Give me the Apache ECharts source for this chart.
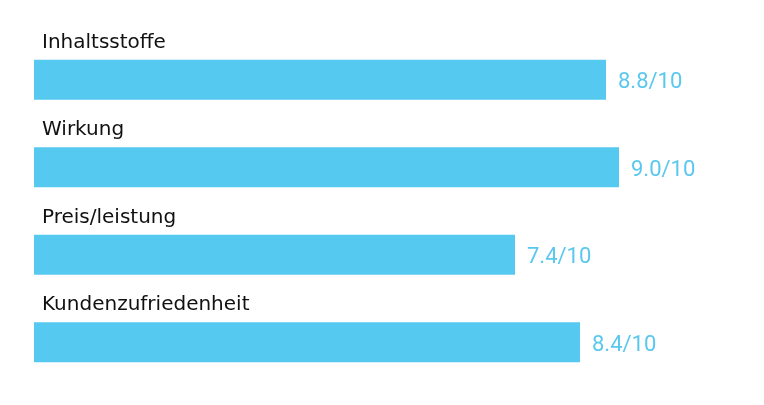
<!DOCTYPE html>
<html>
<head>
<meta charset="utf-8">
<script src="https://cdn.jsdelivr.net/npm/echarts@6/dist/echarts.min.js"></script>
<style>html,body{margin:0;padding:0;background:#fff}#c{width:764px;height:405px}</style>
</head>
<body>
<div id="c"></div>
<script>
var categories = ['Inhaltsstoffe', 'Wirkung', 'Preis/leistung', 'Kundenzufriedenheit'];
var scores = [8.8, 9.0, 7.4, 8.4];
var maxScore = 10;

var chart = echarts.init(document.getElementById('c'));
chart.setOption({
  animation: false,
  grid: { left: 34, top: 36, width: 650, height: 350 },
  xAxis: { type: 'value', min: 0, max: maxScore, show: false },
  yAxis: { type: 'category', data: categories, inverse: true, show: false },
  series: [
    {
      type: 'bar',
      data: scores,
      barWidth: 40,
      itemStyle: { color: '#56C9F0' },
      label: {
        show: true,
        position: 'right',
        distance: 12,
        offset: [0, 3],
        color: '#5AC8EE',
        fontFamily: 'Roboto',
        fontSize: 22,
        formatter: function (p) { return p.value.toFixed(1) + '/' + maxScore; }
      }
    },
    {
      type: 'bar',
      data: scores,
      barWidth: 40,
      barGap: '-100%',
      itemStyle: { color: 'rgba(0,0,0,0)' },
      silent: true,
      label: {
        show: true,
        position: [8, -17],
        verticalAlign: 'middle',
        align: 'left',
        color: '#111',
        fontFamily: 'DejaVu Sans',
        fontSize: 20,
        formatter: function (p) { return p.name; }
      }
    }
  ]
});
</script>
</body>
</html>
